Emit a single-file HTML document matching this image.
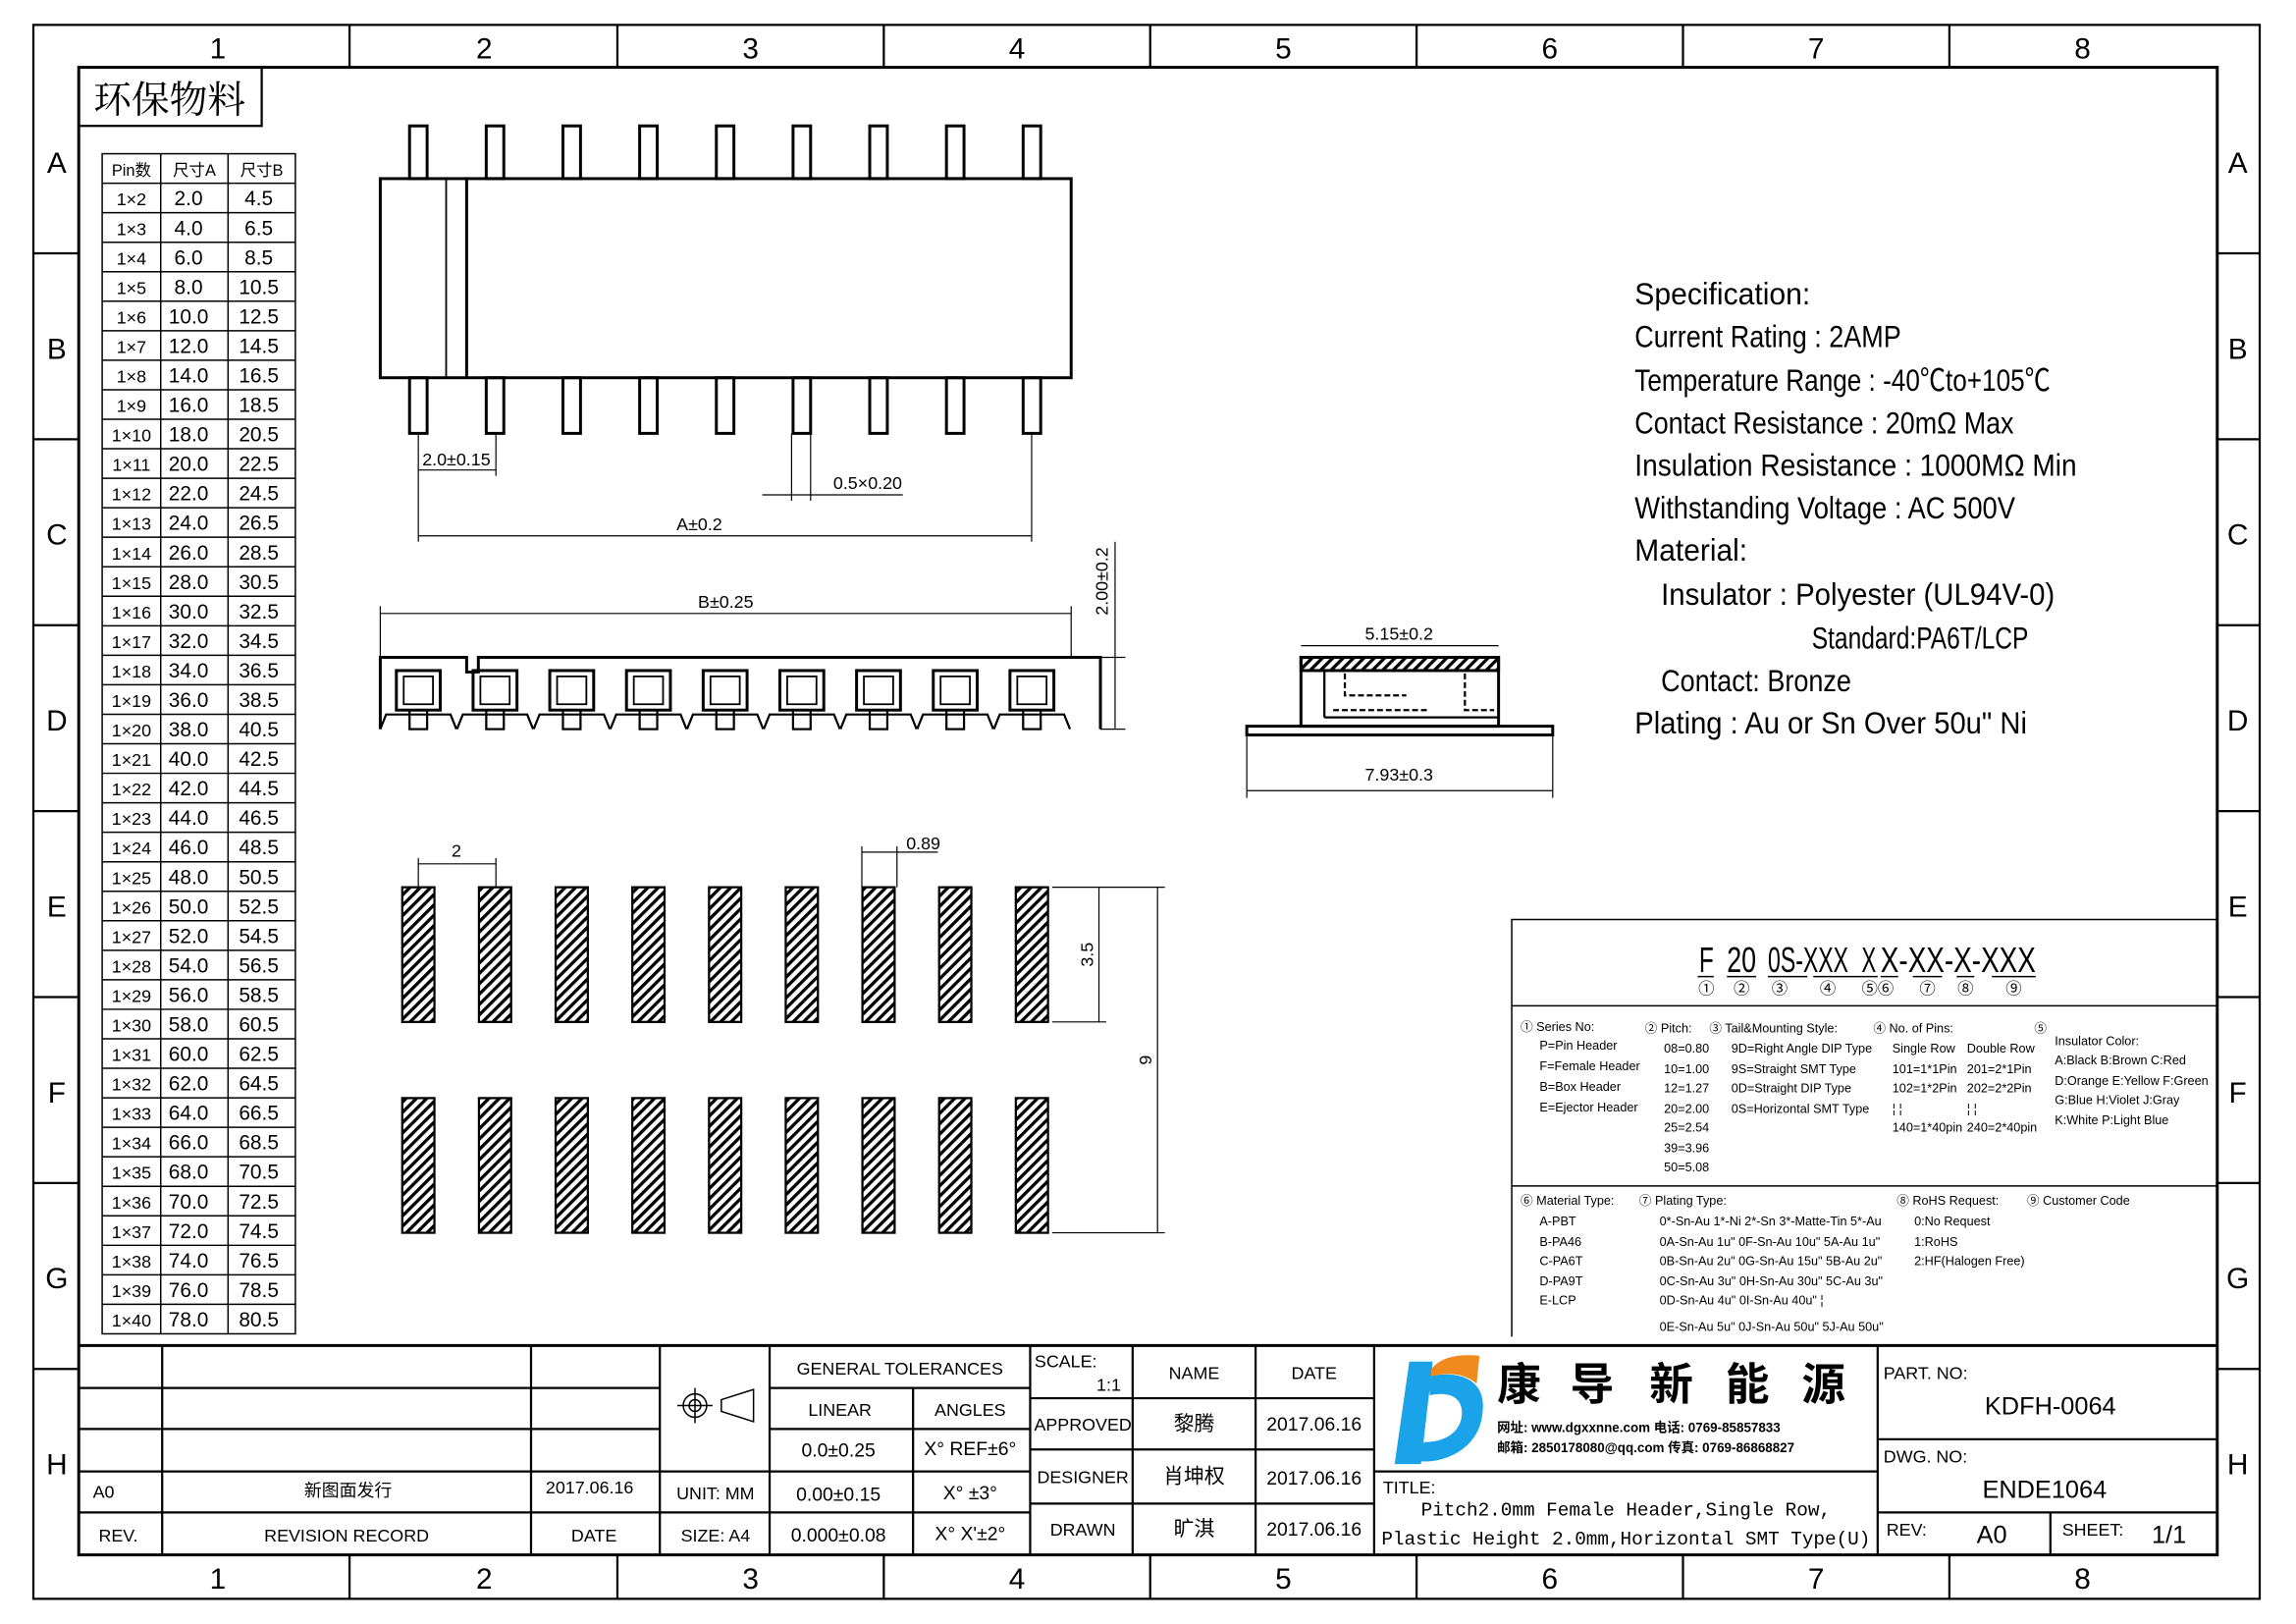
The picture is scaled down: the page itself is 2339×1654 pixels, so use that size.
<!DOCTYPE html>
<html><head><meta charset="utf-8"><style>
html,body{margin:0;padding:0;background:#fff}
svg{display:block}
text{font-family:"Liberation Sans Narrow","Liberation Sans","Noto Sans CJK SC",sans-serif;fill:#000}
.c{text-anchor:middle}
</style></head><body>
<svg width="2339" height="1654" viewBox="-0.8 0 1568.6 1109.2" preserveAspectRatio="none" xmlns="http://www.w3.org/2000/svg">
<defs>
<pattern id="h" width="5" height="5" patternUnits="userSpaceOnUse" patternTransform="rotate(45)">
<rect width="5" height="5" fill="#fff"/><rect width="2.2" height="5" fill="#000"/></pattern>
</defs>
<g fill="none" stroke="#000">
<rect x="22" y="17" width="1521" height="1075" stroke-width="1.5"/>
<rect x="53" y="46" width="1461" height="1016" stroke-width="2"/>
<g stroke-width="1.5">
<line x1="238" y1="17" x2="238" y2="46"/><line x1="421" y1="17" x2="421" y2="46"/><line x1="603" y1="17" x2="603" y2="46"/><line x1="785" y1="17" x2="785" y2="46"/><line x1="967" y1="17" x2="967" y2="46"/><line x1="1149" y1="17" x2="1149" y2="46"/><line x1="1331" y1="17" x2="1331" y2="46"/>
<line x1="238" y1="1062" x2="238" y2="1092"/><line x1="421" y1="1062" x2="421" y2="1092"/><line x1="603" y1="1062" x2="603" y2="1092"/><line x1="785" y1="1062" x2="785" y2="1092"/><line x1="967" y1="1062" x2="967" y2="1092"/><line x1="1149" y1="1062" x2="1149" y2="1092"/><line x1="1331" y1="1062" x2="1331" y2="1092"/>
<line x1="22" y1="173" x2="53" y2="173"/><line x1="22" y1="300" x2="53" y2="300"/><line x1="22" y1="427" x2="53" y2="427"/><line x1="22" y1="554" x2="53" y2="554"/><line x1="22" y1="681" x2="53" y2="681"/><line x1="22" y1="808" x2="53" y2="808"/><line x1="22" y1="935" x2="53" y2="935"/>
<line x1="1514" y1="173" x2="1543" y2="173"/><line x1="1514" y1="300" x2="1543" y2="300"/><line x1="1514" y1="427" x2="1543" y2="427"/><line x1="1514" y1="554" x2="1543" y2="554"/><line x1="1514" y1="681" x2="1543" y2="681"/><line x1="1514" y1="808" x2="1543" y2="808"/><line x1="1514" y1="935" x2="1543" y2="935"/>
</g>
</g>
<g font-size="20" class="c">
<text x="148" y="40" class="c">1</text><text x="330" y="40" class="c">2</text><text x="512" y="40" class="c">3</text><text x="694" y="40" class="c">4</text><text x="876" y="40" class="c">5</text><text x="1058" y="40" class="c">6</text><text x="1240" y="40" class="c">7</text><text x="1422" y="40" class="c">8</text>
<text x="148" y="1085" class="c">1</text><text x="330" y="1085" class="c">2</text><text x="512" y="1085" class="c">3</text><text x="694" y="1085" class="c">4</text><text x="876" y="1085" class="c">5</text><text x="1058" y="1085" class="c">6</text><text x="1240" y="1085" class="c">7</text><text x="1422" y="1085" class="c">8</text>
<text x="38" y="118" class="c">A</text><text x="38" y="245" class="c">B</text><text x="38" y="372" class="c">C</text><text x="38" y="499" class="c">D</text><text x="38" y="626" class="c">E</text><text x="38" y="753" class="c">F</text><text x="38" y="880" class="c">G</text><text x="38" y="1007" class="c">H</text>
<text x="1528" y="118" class="c">A</text><text x="1528" y="245" class="c">B</text><text x="1528" y="372" class="c">C</text><text x="1528" y="499" class="c">D</text><text x="1528" y="626" class="c">E</text><text x="1528" y="753" class="c">F</text><text x="1528" y="880" class="c">G</text><text x="1528" y="1007" class="c">H</text>
</g>
<rect x="53" y="46" width="125" height="40" fill="none" stroke="#000" stroke-width="1.5"/>
<text x="115" y="77" font-size="26" class="c" style="font-family:'Noto Serif CJK SC','Noto Sans CJK SC',serif">环保物料</text>

<g id="tbl" fill="none" stroke="#000" stroke-width="1">
<rect x="69" y="105" width="132" height="806"/>
<line x1="109" y1="105" x2="109" y2="911"/><line x1="155" y1="105" x2="155" y2="911"/>
</g>
<g id="tr" font-size="12"></g>

<g fill="none" stroke="#000" stroke-width="2">
<rect x="259" y="122" width="472" height="136"/>
<line x1="304" y1="122" x2="304" y2="258" stroke-width="1.2"/><line x1="318" y1="122" x2="318" y2="258"/>
<g id="pins"></g>
</g>
<g stroke="#000" stroke-width="0.8" fill="none">
<line x1="285" y1="296" x2="285" y2="370"/><line x1="338" y1="296" x2="338" y2="325"/><line x1="704" y1="296" x2="704" y2="370"/>
<line x1="285" y1="321" x2="338" y2="321"/><line x1="285" y1="366" x2="704" y2="366"/>
<line x1="540" y1="296" x2="540" y2="342"/><line x1="553" y1="296" x2="553" y2="342"/><line x1="520" y1="338" x2="616" y2="338"/>
<line x1="259" y1="414" x2="259" y2="449"/><line x1="731" y1="414" x2="731" y2="449"/><line x1="259" y1="419" x2="731" y2="419"/>
<line x1="751" y1="449" x2="768" y2="449"/><line x1="751" y1="498" x2="768" y2="498"/><line x1="761" y1="370" x2="761" y2="498"/>
</g>
<g font-size="12">
<text x="311" y="318" class="c">2.0±0.15</text><text x="592" y="334" class="c">0.5×0.20</text><text x="477" y="362" class="c">A±0.2</text><text x="495" y="415" class="c">B±0.25</text>
<text transform="translate(756,397) rotate(-90)" class="c">2.00±0.2</text>
</g>
<g fill="none" stroke="#000" stroke-width="2" id="front">
<path d="M259 498 V449 H318 V459 H326 V449 H751 V498"/>
</g>
<g fill="none" stroke="#000">
<line x1="888" y1="441" x2="1023" y2="441" stroke-width="0.8"/>
<rect x="888" y="449" width="135" height="9" fill="url(#h)" stroke-width="2"/>
<rect x="888" y="449" width="135" height="47" stroke-width="2"/>
<line x1="904" y1="458" x2="904" y2="490" stroke-width="1.5"/><line x1="904" y1="490" x2="1023" y2="490" stroke-width="1.5"/>
<path d="M918 460 V475 H960 M910 485 H975 M1000 460 V485 H1020 M895 496 H1018" stroke-width="1.5" stroke-dasharray="4 2"/>
<rect x="851" y="496" width="209" height="6" stroke-width="2"/>
<line x1="851" y1="502" x2="851" y2="545" stroke-width="0.8"/><line x1="1060" y1="502" x2="1060" y2="545" stroke-width="0.8"/>
<line x1="851" y1="540" x2="1060" y2="540" stroke-width="0.8"/>
</g>
<text x="955" y="437" font-size="12" class="c">5.15±0.2</text>
<text x="955" y="533" font-size="12" class="c">7.93±0.3</text>
<g id="pads" stroke="#000" stroke-width="1.5"></g>
<g stroke="#000" stroke-width="0.8" fill="none">
<line x1="285" y1="586" x2="285" y2="606"/><line x1="338" y1="586" x2="338" y2="606"/><line x1="285" y1="590" x2="338" y2="590"/>
<line x1="588" y1="582" x2="612" y2="582"/><line x1="612" y1="578" x2="612" y2="606"/><line x1="588" y1="578" x2="588" y2="606"/><line x1="612" y1="582" x2="640" y2="582"/>
<line x1="718" y1="606" x2="795" y2="606"/><line x1="718" y1="698" x2="755" y2="698"/><line x1="718" y1="842" x2="795" y2="842"/>
<line x1="750" y1="606" x2="750" y2="698"/><line x1="790" y1="606" x2="790" y2="842"/>
</g>
<g font-size="12"><text x="311" y="585" class="c">2</text><text x="630" y="580" class="c">0.89</text>
<text transform="translate(746,652) rotate(-90)" class="c">3.5</text><text transform="translate(786,724) rotate(-90)" class="c">9</text></g>

<g font-size="21">
<text x="1116" y="208" textLength="120" lengthAdjust="spacingAndGlyphs">Specification:</text>
<text x="1116" y="237" textLength="182" lengthAdjust="spacingAndGlyphs">Current Rating : 2AMP</text>
<text x="1116" y="267" textLength="284" lengthAdjust="spacingAndGlyphs">Temperature Range : -40℃to+105℃</text>
<text x="1116" y="296" textLength="259" lengthAdjust="spacingAndGlyphs">Contact Resistance : 20mΩ Max</text>
<text x="1116" y="325" textLength="302" lengthAdjust="spacingAndGlyphs">Insulation Resistance : 1000MΩ Min</text>
<text x="1116" y="354" textLength="260" lengthAdjust="spacingAndGlyphs">Withstanding Voltage : AC 500V</text>
<text x="1116" y="383" textLength="77" lengthAdjust="spacingAndGlyphs">Material:</text>
<text x="1134" y="413" textLength="269" lengthAdjust="spacingAndGlyphs">Insulator : Polyester (UL94V-0)</text>
<text x="1237" y="443" textLength="148" lengthAdjust="spacingAndGlyphs">Standard:PA6T/LCP</text>
<text x="1134" y="472" textLength="130" lengthAdjust="spacingAndGlyphs">Contact: Bronze</text>
<text x="1116" y="501" textLength="268" lengthAdjust="spacingAndGlyphs">Plating : Au or Sn Over 50u" Ni</text>
</g>

<g fill="none" stroke="#000" stroke-width="1">
<path d="M1032 913 V628 H1514 M1032 687 H1514 M1032 810 H1514"/>
<path d="M1159 667h11 M1179 667h20 M1207 667h27 M1238 667h38 M1270 667h12 M1284 667h12 M1306 667h20 M1336 667h12 M1360 667h30"/>
</g>
<g font-size="24">
<text x="1160" y="664" textLength="10" lengthAdjust="spacingAndGlyphs">F</text><text x="1179" y="664" textLength="20" lengthAdjust="spacingAndGlyphs">20</text><text x="1207" y="664" textLength="55" lengthAdjust="spacingAndGlyphs">0S-XXX</text><text x="1271" y="664" textLength="10" lengthAdjust="spacingAndGlyphs">X</text><text x="1284" y="664" textLength="106" lengthAdjust="spacingAndGlyphs">X-XX-X-XXX</text>
</g>
<g font-size="11" class="c">
<text x="1165" y="679" class="c">①</text><text x="1189" y="679" class="c">②</text><text x="1215" y="679" class="c">③</text><text x="1248" y="679" class="c">④</text><text x="1282" y="679" class="c">⑤⑥</text><text x="1316" y="679" class="c">⑦</text><text x="1342" y="679" class="c">⑧</text><text x="1375" y="679" class="c">⑨</text>
</g>
<g font-size="8.5">
<text x="1038" y="704">① Series No:</text><text x="1051" y="717">P=Pin Header</text><text x="1051" y="731">F=Female Header</text><text x="1051" y="745">B=Box Header</text><text x="1051" y="759">E=Ejector Header</text>
<text x="1123" y="705">② Pitch:</text><text x="1136" y="719">08=0.80</text><text x="1136" y="733">10=1.00</text><text x="1136" y="746">12=1.27</text><text x="1136" y="760">20=2.00</text><text x="1136" y="773">25=2.54</text><text x="1136" y="787">39=3.96</text><text x="1136" y="800">50=5.08</text>
<text x="1167" y="705">③ Tail&amp;Mounting Style:</text><text x="1182" y="719">9D=Right Angle DIP Type</text><text x="1182" y="733">9S=Straight SMT Type</text><text x="1182" y="746">0D=Straight DIP Type</text><text x="1182" y="760">0S=Horizontal SMT Type</text>
<text x="1279" y="705">④ No. of Pins:</text><text x="1292" y="719">Single Row</text><text x="1343" y="719">Double Row</text><text x="1292" y="733">101=1*1Pin</text><text x="1343" y="733">201=2*1Pin</text><text x="1292" y="746">102=1*2Pin</text><text x="1343" y="746">202=2*2Pin</text><text x="1292" y="760">¦  ¦</text><text x="1343" y="760">¦  ¦</text><text x="1292" y="773">140=1*40pin</text><text x="1343" y="773">240=2*40pin</text>
<text x="1389" y="705">⑤</text><text x="1403" y="714">Insulator Color:</text><text x="1403" y="727">A:Black  B:Brown  C:Red</text><text x="1403" y="741">D:Orange E:Yellow F:Green</text><text x="1403" y="754">G:Blue   H:Violet J:Gray</text><text x="1403" y="768">K:White  P:Light Blue</text>
<text x="1038" y="823">⑥ Material Type:</text><text x="1051" y="837">A-PBT</text><text x="1051" y="851">B-PA46</text><text x="1051" y="864">C-PA6T</text><text x="1051" y="878">D-PA9T</text><text x="1051" y="891">E-LCP</text>
<text x="1119" y="823">⑦ Plating Type:</text><text x="1133" y="837">0*-Sn-Au 1*-Ni 2*-Sn 3*-Matte-Tin 5*-Au</text><text x="1133" y="851">0A-Sn-Au 1u" 0F-Sn-Au 10u"  5A-Au 1u"</text><text x="1133" y="864">0B-Sn-Au 2u" 0G-Sn-Au 15u"  5B-Au 2u"</text><text x="1133" y="878">0C-Sn-Au 3u" 0H-Sn-Au 30u"  5C-Au 3u"</text><text x="1133" y="891">0D-Sn-Au 4u" 0I-Sn-Au 40u"     ¦</text><text x="1133" y="909">0E-Sn-Au 5u" 0J-Sn-Au 50u"  5J-Au 50u"</text>
<text x="1295" y="823">⑧ RoHS Request:</text><text x="1307" y="837">0:No Request</text><text x="1307" y="851">1:RoHS</text><text x="1307" y="864">2:HF(Halogen Free)</text>
<text x="1384" y="823">⑨ Customer Code</text>
</g>

<g fill="none" stroke="#000" stroke-width="1.5">
<line x1="53" y1="919" x2="1514" y2="919" stroke-width="2"/>
<path d="M53 948 H450 M53 976 H450 M53 1005 H525 M53 1033 H703 M110 919 V1062 M362 919 V1062 M450 919 V1062 M525 919 V1062 M703 919 V1062"/>
<path d="M525 948 H703 M525 976 H703 M525 1005 H703 M623 948 V1062"/>
<path d="M703 955 H938 M703 990 H938 M703 1027 H938 M773 919 V1062 M857 919 V1062 M938 919 V1062"/>
<path d="M938 1005 H1282 M1282 919 V1062 M1282 983 H1514 M1282 1033 H1514 M1400 1033 V1062"/>
</g>
<g font-size="12">
<text x="70" y="1023" class="c">A0</text><text x="237" y="1022" class="c" style="font-family:'Noto Sans CJK SC',sans-serif">新图面发行</text><text x="402" y="1020" class="c">2017.06.16</text>
<text x="80" y="1053" class="c">REV.</text><text x="236" y="1053" class="c">REVISION RECORD</text><text x="405" y="1053" class="c">DATE</text>
<text x="488" y="1024" class="c">UNIT: MM</text><text x="488" y="1053" class="c">SIZE: A4</text>
<text x="614" y="939" class="c">GENERAL TOLERANCES</text><text x="573" y="967" class="c">LINEAR</text><text x="662" y="967" class="c">ANGLES</text>
<text x="572" y="995" font-size="13" class="c">0.0±0.25</text><text x="662" y="994" font-size="13" class="c">X° REF±6°</text>
<text x="572" y="1025" font-size="13" class="c">0.00±0.15</text><text x="662" y="1024" font-size="13" class="c">X° ±3°</text>
<text x="572" y="1053" font-size="13" class="c">0.000±0.08</text><text x="662" y="1052" font-size="13" class="c">X° X'±2°</text>
<text x="706" y="934">SCALE:</text><text x="765" y="950" text-anchor="end">1:1</text>
<text x="815" y="942" class="c">NAME</text><text x="897" y="942" class="c">DATE</text>
<text x="739" y="977" class="c">APPROVED</text><text x="739" y="1013" class="c">DESIGNER</text><text x="739" y="1049" class="c">DRAWN</text>
<g style="font-family:'Noto Sans CJK SC',sans-serif" font-size="14"><text x="815" y="977" class="c">黎腾</text><text x="815" y="1013" class="c">肖坤权</text><text x="815" y="1049" class="c">旷淇</text></g>
<text x="897" y="977" font-size="13" class="c">2017.06.16</text><text x="897" y="1014" font-size="13" class="c">2017.06.16</text><text x="897" y="1049" font-size="13" class="c">2017.06.16</text>
<text x="944" y="1020">TITLE:</text>
<text x="1110" y="1035" font-size="13" class="c" style="font-family:'Liberation Mono',monospace" textLength="280">Pitch2.0mm Female Header,Single Row,</text>
<text x="1110" y="1055" font-size="13" class="c" style="font-family:'Liberation Mono',monospace" textLength="334">Plastic Height 2.0mm,Horizontal SMT Type(U)</text>
<text x="1286" y="942">PART. NO:</text><text x="1400" y="966" font-size="17" class="c">KDFH-0064</text>
<text x="1286" y="999">DWG. NO:</text><text x="1396" y="1023" font-size="17" class="c">ENDE1064</text>
<text x="1288" y="1049">REV:</text><text x="1360" y="1054" font-size="17" class="c">A0</text><text x="1408" y="1049">SHEET:</text><text x="1481" y="1054" font-size="17" class="c">1/1</text>
</g>
<g fill="none" stroke="#000" stroke-width="1">
<circle cx="474" cy="960" r="8"/><circle cx="474" cy="960" r="4"/><line x1="462" y1="960" x2="486" y2="960"/><line x1="474" y1="948" x2="474" y2="972"/>
<path d="M492 956 L514 949 V971 L492 964 Z"/>
</g>
<path d="M962 930 H978 L970 1000 H952 Z" fill="#1aa3e8"/>
<path d="M975 940 C1000 935 1015 945 1012 965 C1010 990 985 1000 968 998 L972 985 C990 985 998 975 998 965 C998 955 990 950 976 953 Z" fill="#1aa3e8"/>
<path d="M977 935 C985 925 1000 925 1010 926 L1008 945 C1000 938 988 937 977 940 Z" fill="#f08a1c"/>
<g style="font-family:'Noto Sans CJK SC',sans-serif" font-weight="bold">
<text x="1022" y="956" font-size="30">康</text><text x="1072" y="956" font-size="30">导</text><text x="1126" y="956" font-size="30">新</text><text x="1178" y="956" font-size="30">能</text><text x="1230" y="956" font-size="30">源</text>
<text x="1022" y="978" font-size="9">网址: www.dgxxnne.com   电话: 0769-85857833</text>
<text x="1022" y="992" font-size="9">邮箱: 2850178080@qq.com   传真: 0769-86868827</text>
</g>
<script>
var ns="http://www.w3.org/2000/svg";
function el(p,t,a,txt){var e=document.createElementNS(ns,t);for(var k in a)e.setAttribute(k,a[k]);if(txt!=null)e.textContent=txt;p.appendChild(e);return e;}
var tr=document.getElementById('tr'),tb=document.getElementById('tbl');
var rh=806/40;
el(tr,'text',{x:89,y:105+rh-5,'text-anchor':'middle','font-family':"'Noto Sans CJK SC',sans-serif",'font-size':11},'Pin数');
el(tr,'text',{x:132,y:105+rh-5,'text-anchor':'middle','font-family':"'Noto Sans CJK SC',sans-serif",'font-size':11},'尺寸A');
el(tr,'text',{x:178,y:105+rh-5,'text-anchor':'middle','font-family':"'Noto Sans CJK SC',sans-serif",'font-size':11},'尺寸B');
for(var i=1;i<40;i++){var y=105+rh*i;el(tb,'line',{x1:69,y1:y,x2:201,y2:y});
var n=i+1,yy=y+rh-5;el(tr,'text',{x:89,y:yy,'text-anchor':'middle'},'1×'+n);
el(tr,'text',{x:128,y:yy,'text-anchor':'middle','font-size':14},(2*(n-1)).toFixed(1));
el(tr,'text',{x:176,y:yy,'text-anchor':'middle','font-size':14},(2*(n-1)+2.5).toFixed(1));}
var pins=document.getElementById('pins'),fr=document.getElementById('front'),pads=document.getElementById('pads');
for(var j=0;j<9;j++){var cx=285+j*52.4;
el(pins,'rect',{x:cx-6,y:86,width:12,height:36});el(pins,'rect',{x:cx-6,y:258,width:12,height:38});
el(fr,'rect',{x:cx-15,y:458,width:30,height:27});el(fr,'rect',{x:cx-10,y:462,width:20,height:19,'stroke-width':1.2});
el(fr,'rect',{x:cx-6,y:485,width:12,height:13,'stroke-width':1.5});
el(fr,'path',{d:'M'+(cx-26)+' 498 L'+(cx-22)+' 488 H'+(cx+22)+' L'+(cx+26)+' 498','stroke-width':1.5});
el(pads,'rect',{x:cx-11,y:606,width:22,height:92,fill:'url(#h)'});el(pads,'rect',{x:cx-11,y:750,width:22,height:92,fill:'url(#h)'});}
</script>
</svg>
</body></html>
